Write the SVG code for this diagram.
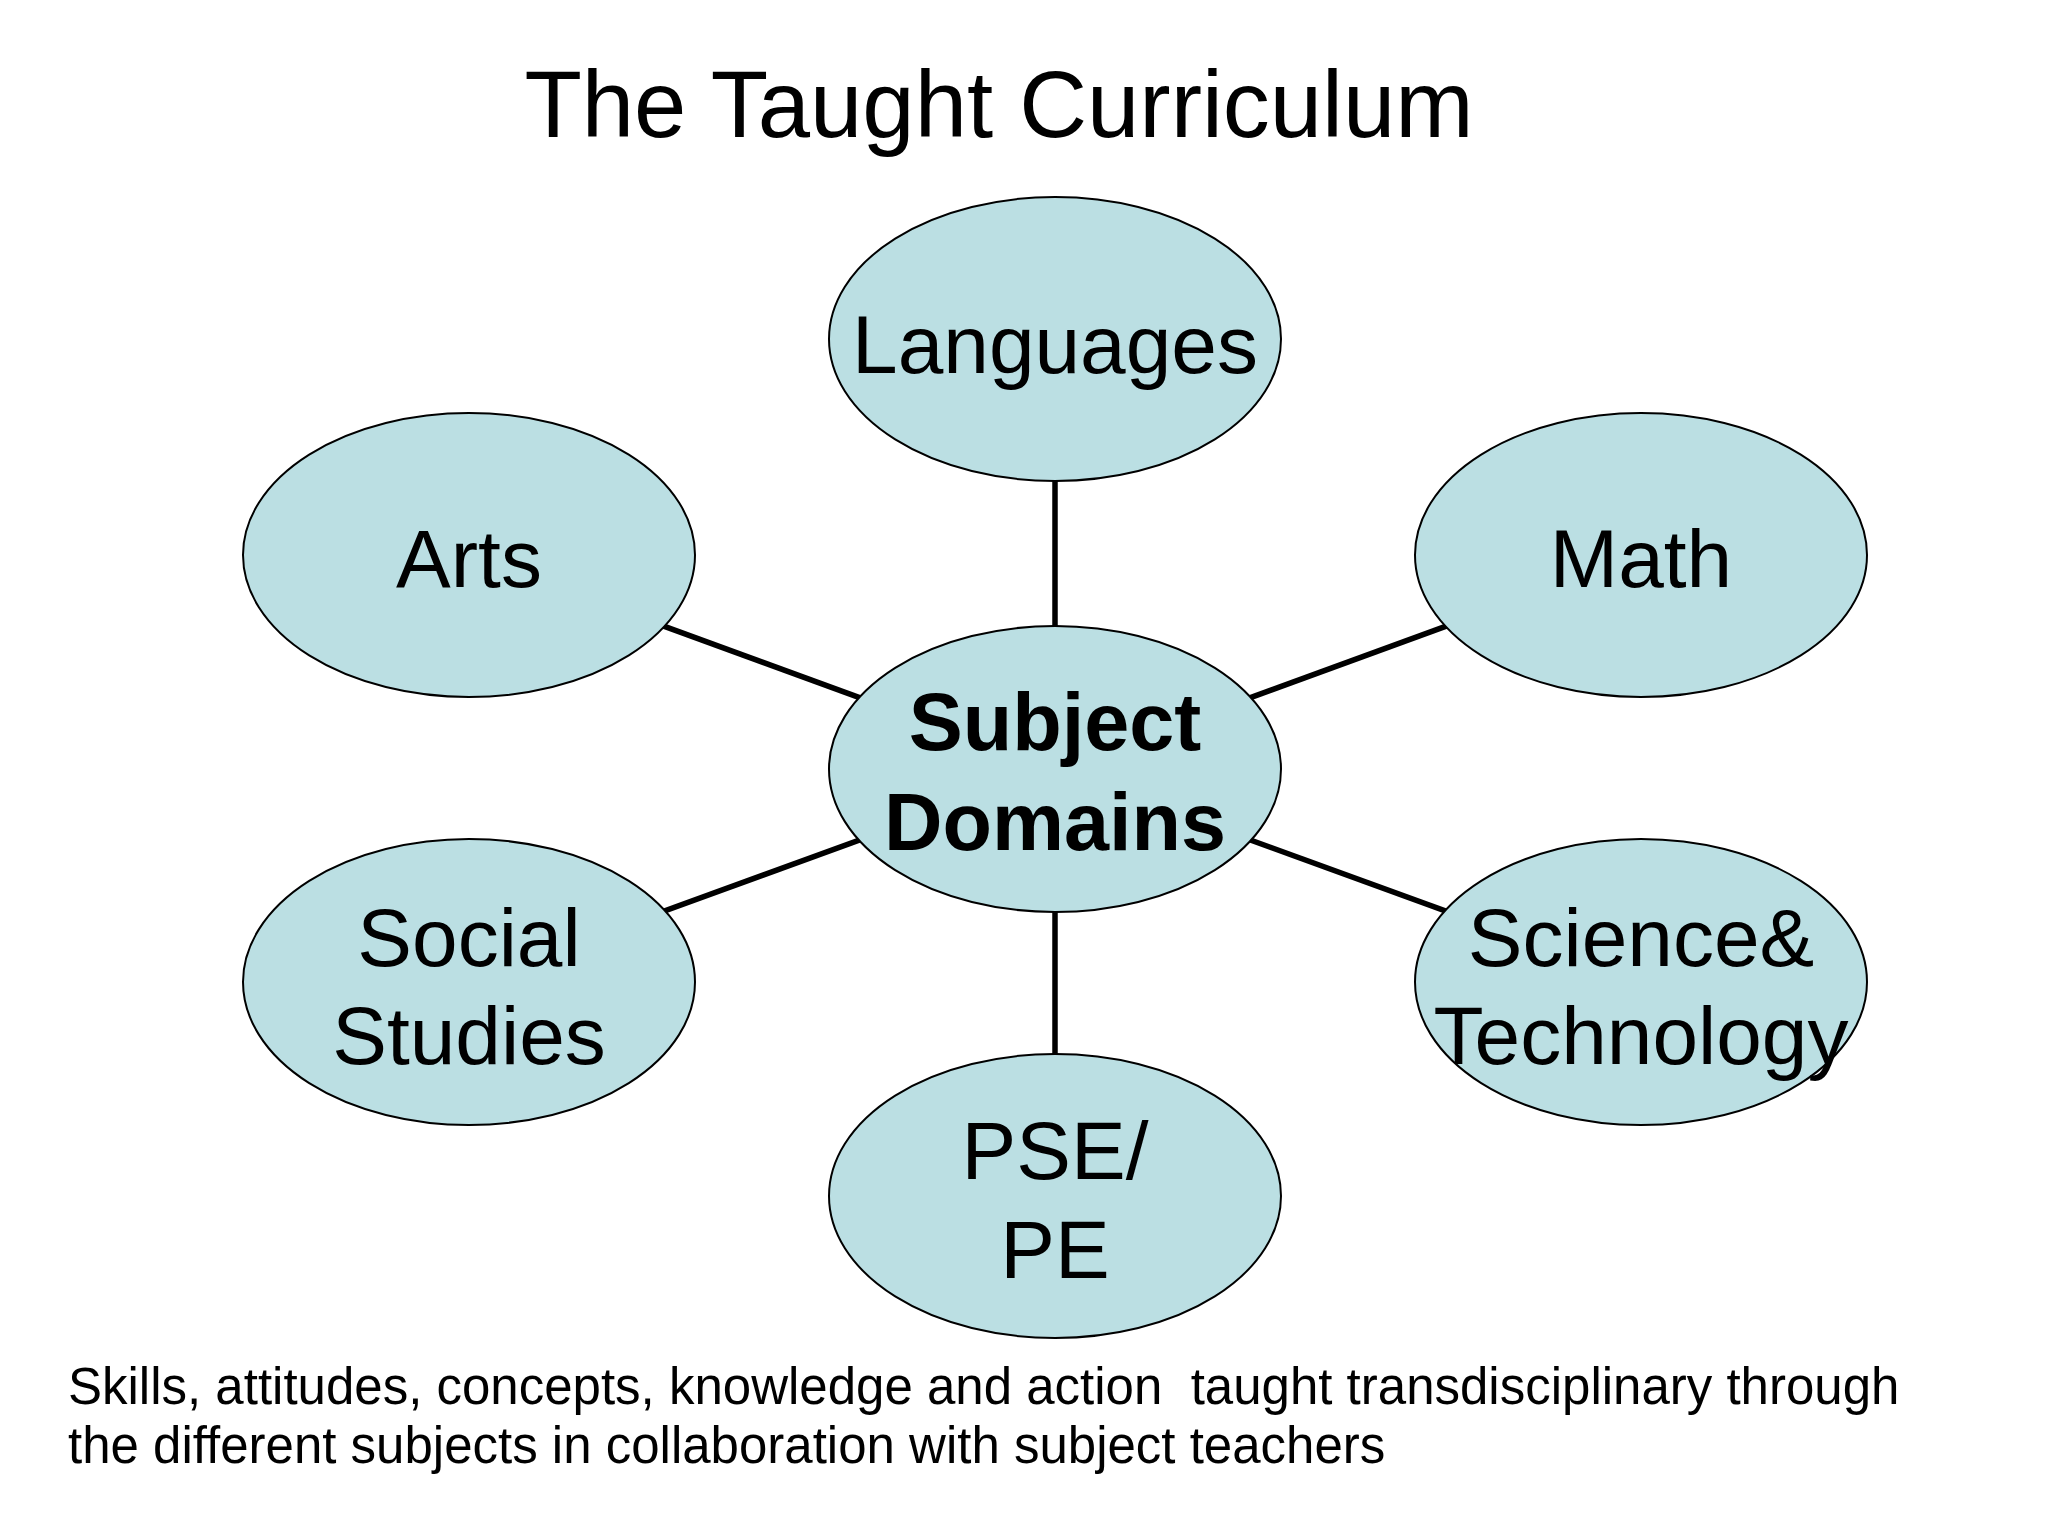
<svg xmlns="http://www.w3.org/2000/svg" width="2048" height="1536" viewBox="0 0 2048 1536">
<style>
.node ellipse{fill:#bbdfe3;stroke:#000;stroke-width:2}
.lbl{font-family:"Liberation Sans",Arial,sans-serif;font-size:82px;fill:#000;text-anchor:middle}
.bold{font-weight:bold;font-size:81px}
.conn line{stroke:#000;stroke-width:5.5}
.title{font-family:"Liberation Sans",Arial,sans-serif;font-size:94px;fill:#000;text-anchor:middle}
.note{font-family:"Liberation Sans",Arial,sans-serif;font-size:51px;fill:#000}
</style>
<rect width="2048" height="1536" fill="#fff"/>
<text class="title" x="999" y="137">The Taught Curriculum</text>
<g id="connectors" class="conn">
<line x1="1055" y1="339" x2="1055" y2="769"/>
<line x1="469" y1="555" x2="1055" y2="769"/>
<line x1="1641" y1="555" x2="1055" y2="769"/>
<line x1="469" y1="982" x2="1055" y2="769"/>
<line x1="1641" y1="982" x2="1055" y2="769"/>
<line x1="1055" y1="1196" x2="1055" y2="769"/>
</g>
<g id="languages" class="node">
<ellipse cx="1055" cy="339" rx="226" ry="142"/>
<text class="lbl" x="1055" y="373">Languages</text>
</g>
<g id="arts" class="node">
<ellipse cx="469" cy="555" rx="226" ry="142"/>
<text class="lbl" x="469" y="587">Arts</text>
</g>
<g id="math" class="node">
<ellipse cx="1641" cy="555" rx="226" ry="142"/>
<text class="lbl" x="1641" y="587">Math</text>
</g>
<g id="subject-domains" class="node">
<ellipse cx="1055" cy="769" rx="226" ry="143"/>
<text class="lbl bold" x="1055" y="750">Subject</text>
<text class="lbl bold" x="1055" y="850">Domains</text>
</g>
<g id="social-studies" class="node">
<ellipse cx="469" cy="982" rx="226" ry="143"/>
<text class="lbl" x="469" y="966">Social</text>
<text class="lbl" x="469" y="1064">Studies</text>
</g>
<g id="science-technology" class="node">
<ellipse cx="1641" cy="982" rx="226" ry="143"/>
<text class="lbl" x="1641" y="966">Science&amp;</text>
<text class="lbl" x="1641" y="1064">Technology</text>
</g>
<g id="pse-pe" class="node">
<ellipse cx="1055" cy="1196" rx="226" ry="142"/>
<text class="lbl" x="1055" y="1179">PSE/</text>
<text class="lbl" x="1055" y="1278">PE</text>
</g>
<text class="note" x="68" y="1404" xml:space="preserve">Skills, attitudes, concepts, knowledge and action  taught transdisciplinary through</text>
<text class="note" x="68" y="1463">the different subjects in collaboration with subject teachers</text>
</svg>
